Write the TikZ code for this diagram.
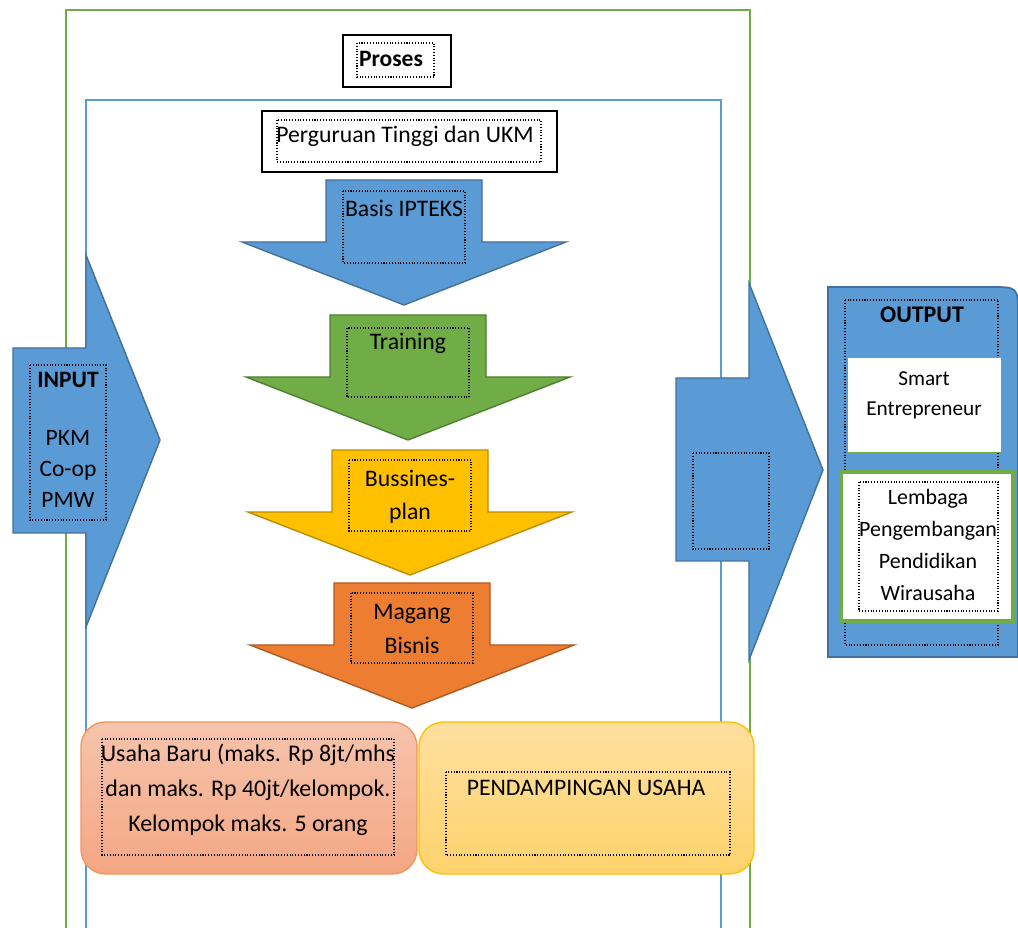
\documentclass[tikz,border=0pt]{standalone}
\usepackage{fontspec}
\setmainfont{Carlito}

\definecolor{biru}{HTML}{5B9BD5}
\definecolor{birugaris}{HTML}{41719C}
\definecolor{hijau}{HTML}{70AD47}
\definecolor{hijaugaris}{HTML}{507E32}
\definecolor{kuning}{HTML}{FFC000}
\definecolor{kuninggaris}{HTML}{BC8C00}
\definecolor{oranye}{HTML}{ED7D31}
\definecolor{oranyegaris}{HTML}{AE5A21}
\definecolor{salmonatas}{HTML}{F6C4AD}
\definecolor{salmonbawah}{HTML}{F4A683}
\definecolor{krematas}{HTML}{FEDF9F}
\definecolor{krembawah}{HTML}{FED36C}

% panah blok ke bawah: pusat x, y atas, isi, garis
\newcommand{\panahbawah}[4]{%
  \filldraw[fill=#3, draw=#4, line width=0.8pt]
    ({#1-78},#2) -- ({#1+78},#2) -- ({#1+78},{#2+62}) -- ({#1+162},{#2+62})
    -- (#1,{#2+125}) -- ({#1-162},{#2+62}) -- ({#1-78},{#2+62}) -- cycle;}

\tikzset{
  teks/.style={font=\fontsize{13.5}{19}\selectfont, inner sep=0pt, align=center},
  tebal/.style={font=\fontsize{13.4}{15}\selectfont\bfseries},
  titik/.style={densely dotted, line width=0.6pt},
}

\begin{document}
\begin{tikzpicture}[x=0.02cm, y=-0.02cm]
  \useasboundingbox (0,0) rectangle (1018,928);
  \clip (0,0) rectangle (1018,928);

  % bingkai proses
  \draw[hijau, line width=1.2pt] (66,940) -- (66,10) -- (750,10) -- (750,940);
  \draw[biru, line width=1.2pt] (86,940) -- (86,100) -- (721,100) -- (721,940);

  % judul
  \draw[line width=0.8pt, fill=white] (343,35) rectangle (451,87);
  \draw[titik] (357,43) rectangle (434,77);
  \node[teks, tebal] (proses) at (391,59) {Proses};

  \draw[line width=0.8pt] (262,111) rectangle (557,172);
  \draw[titik] (277,120) rectangle (541,162);
  \node[teks] (pt) at (405,136) {Perguruan Tinggi dan UKM};

  % tahapan
  \panahbawah{404}{180}{biru}{birugaris}
  \draw[titik] (343,191) rectangle (465,263);
  \node[teks] (basis) at (404,208) {Basis IPTEKS};

  \panahbawah{408}{315}{hijau}{hijaugaris}
  \draw[titik] (347,328) rectangle (469,397);
  \node[teks] (training) at (408,343) {Training};

  \panahbawah{410}{450}{kuning}{kuninggaris}
  \draw[titik] (349,460) rectangle (471,531);
  \node[teks] (bisplan) at (410,497) {Bussines-\\plan};

  \panahbawah{412}{583}{oranye}{oranyegaris}
  \draw[titik] (351,593) rectangle (473,663);
  \node[teks] (magang) at (412,629) {Magang\\Bisnis};

  % usaha
  \draw[rounded corners=14pt, top color=salmonatas, bottom color=salmonbawah,
        draw=oranye!80, line width=0.8pt] (81,722) rectangle (417,874);
  \draw[titik] (102,739) rectangle (394,855);
  \node[teks, font=\fontsize{13.6}{19.8}\selectfont] (usaha) at (248,790)
    {Usaha Baru (maks. Rp 8jt/mhs\\dan maks. Rp 40jt/kelompok.\\Kelompok maks. 5 orang};

  \draw[rounded corners=14pt, top color=krematas, bottom color=krembawah,
        draw=kuning, line width=0.8pt] (419,722) rectangle (754,874);
  \draw[titik] (446,772) rectangle (730,855);
  \node[teks] (dampingan) at (586,788) {PENDAMPINGAN USAHA};

  % input
  \filldraw[fill=biru, draw=birugaris, line width=0.8pt]
    (13,348) -- (86,348) -- (86,255) -- (160,440) -- (86,627) -- (86,533) -- (13,533) -- cycle;
  \draw[titik] (30,365) rectangle (106,520);
  \node[teks, tebal] (input) at (68,380) {INPUT};
  \node[teks, font=\fontsize{13.4}{17.5}\selectfont] (program) at (68,469) {PKM\\Co-op\\PMW};

  % panah ke output
  \filldraw[fill=biru, draw=birugaris, line width=0.8pt]
    (676,378) -- (749,378) -- (749,283) -- (823,470) -- (749,660) -- (749,561) -- (676,561) -- cycle;
  \draw[titik] (693,453) rectangle (769,549);

  % output
  \filldraw[fill=biru, draw=birugaris, line width=1pt]
    (828,657) -- (828,287) -- (990,287) .. controls (1018,287) .. (1018,315) -- (1018,657) -- cycle;
  \draw[titik] (845,300) rectangle (998,645);
  \node[teks, font=\fontsize{13.6}{15}\selectfont\bfseries] (output) at (922,315) {OUTPUT};

  \draw[fill=white, draw=hijau, line width=0.5pt] (847,357) rectangle (1001,452);
  \node[teks, font=\fontsize{12.1}{17}\selectfont] (smart) at (924,395) {Smart\\Entrepreneur};

  \draw[fill=white, draw=hijau, line width=2pt] (841,472) rectangle (1013,621);
  \draw[titik] (859,482) rectangle (998,611);
  \node[teks, font=\fontsize{12.5}{18.2}\selectfont] (lembaga) at (928,545)
    {Lembaga\\Pengembangan\\Pendidikan\\Wirausaha};
\end{tikzpicture}
\end{document}
